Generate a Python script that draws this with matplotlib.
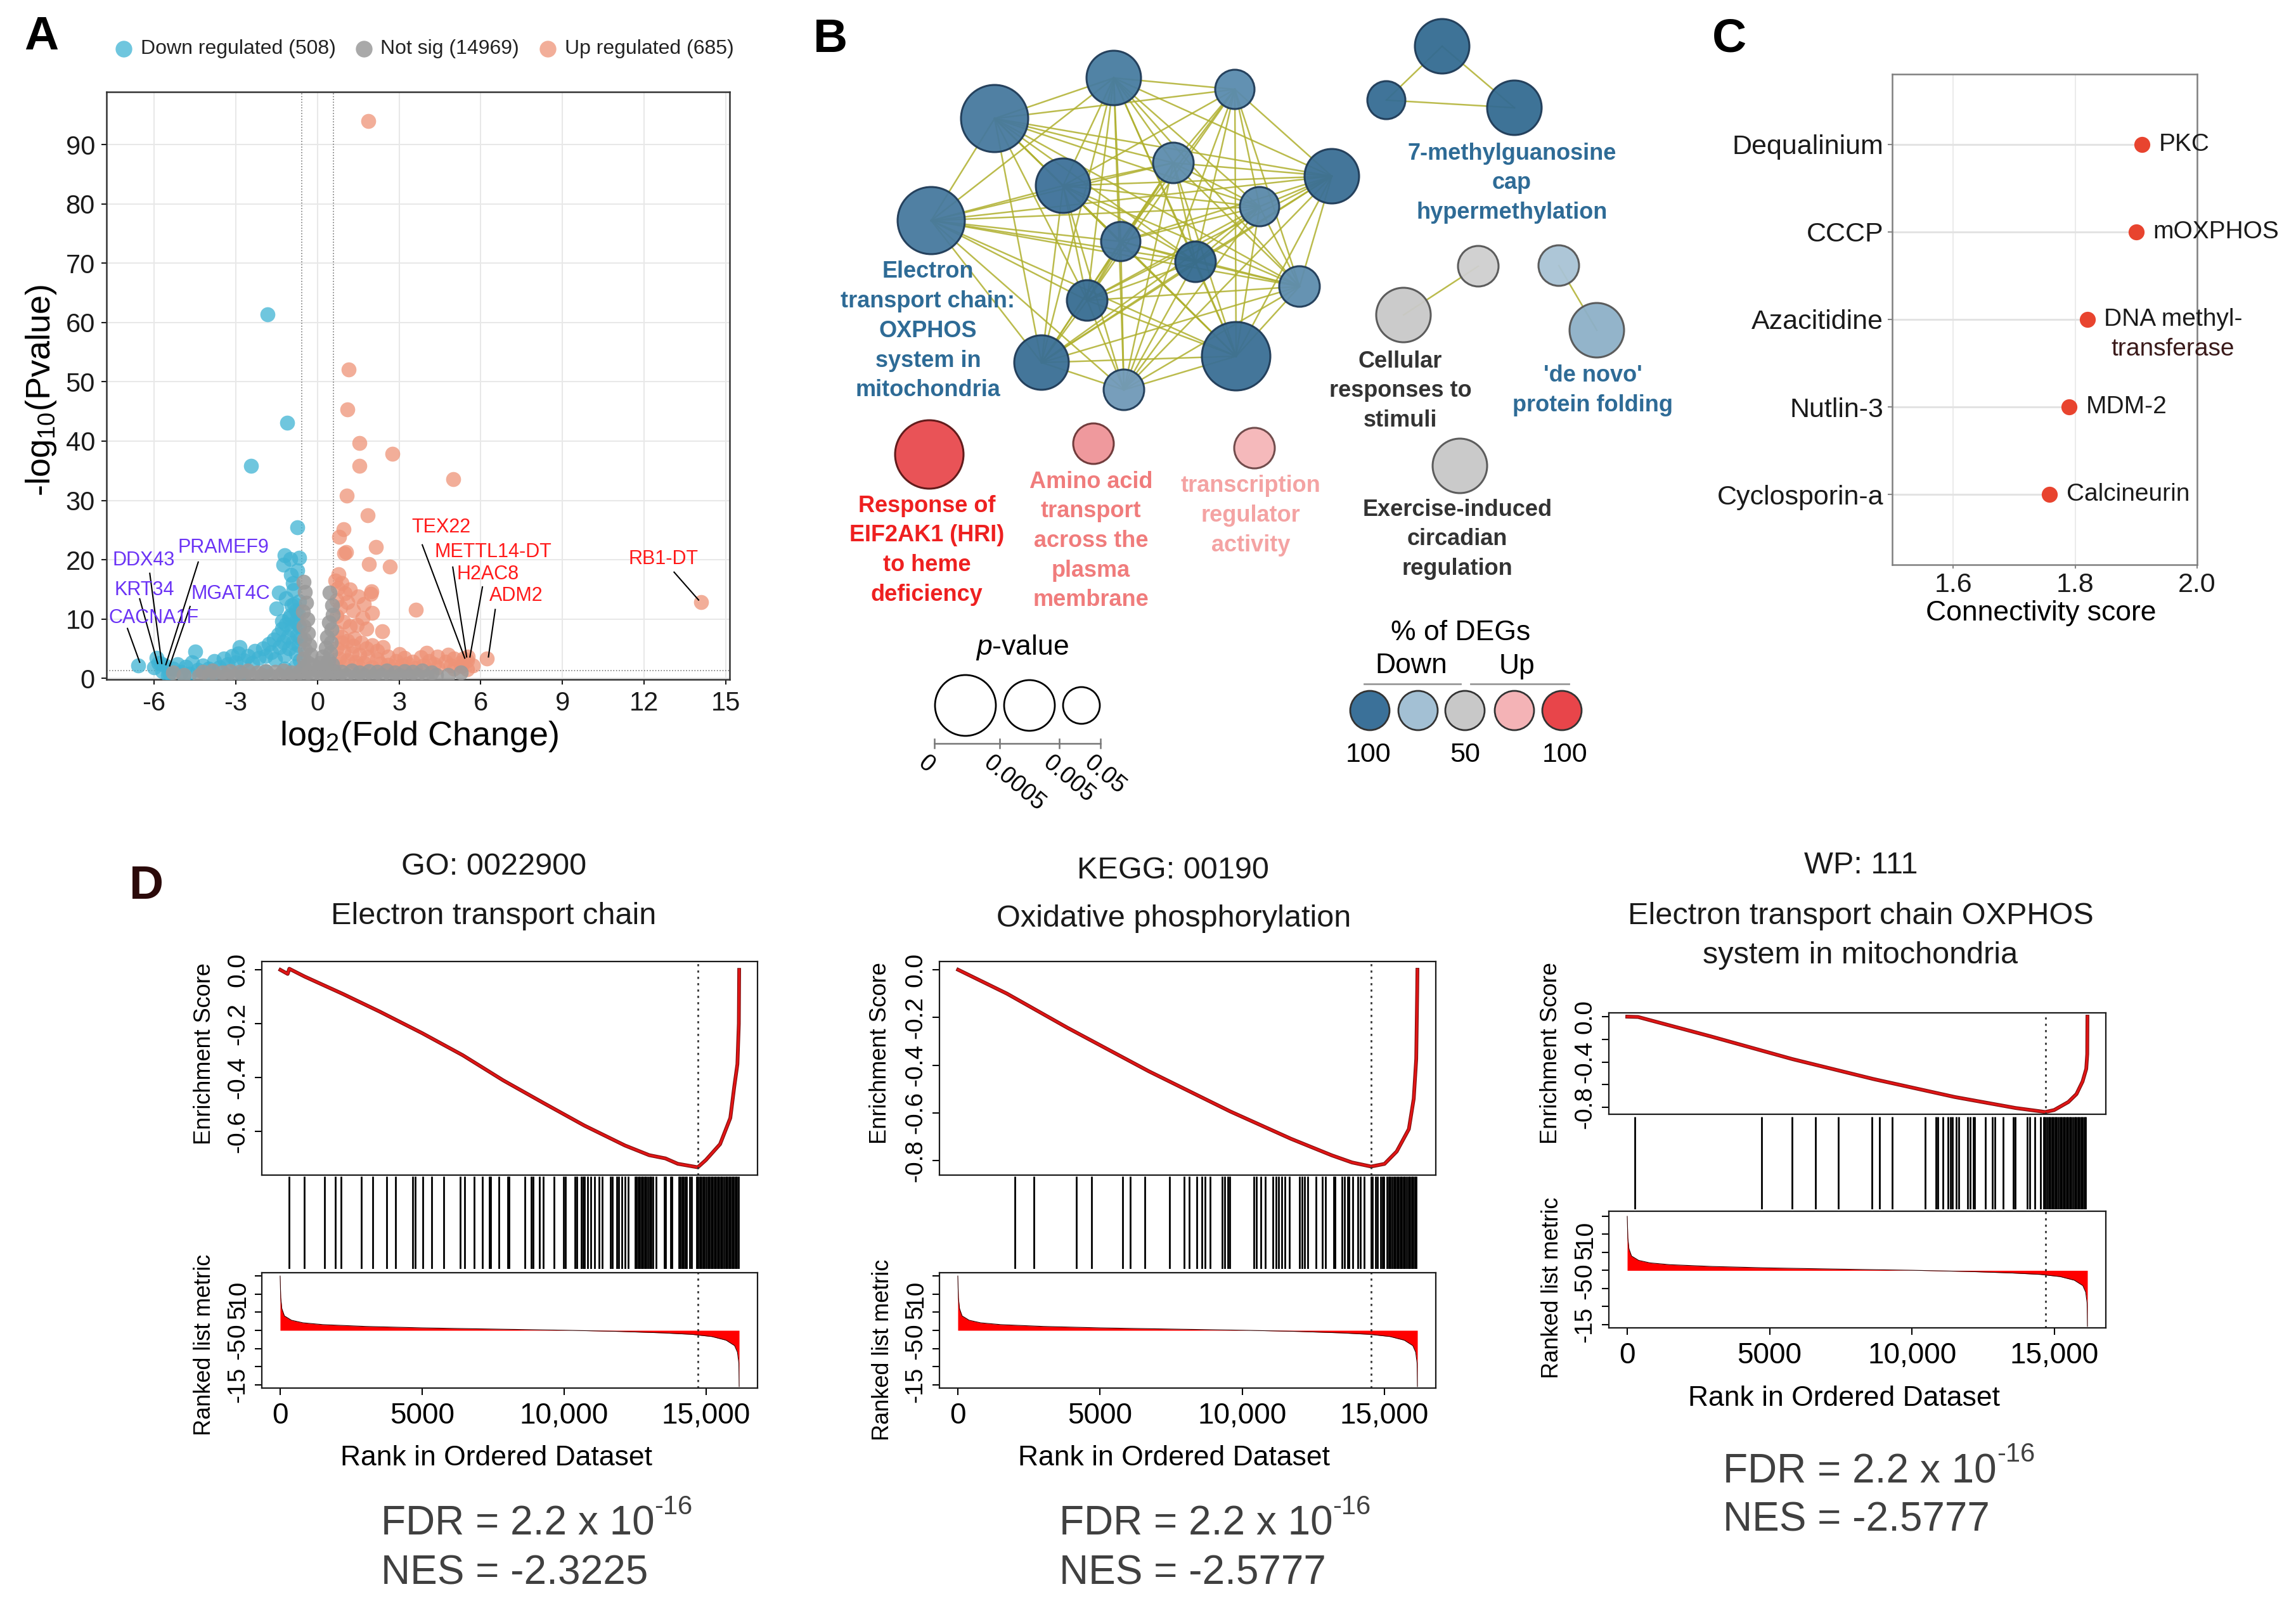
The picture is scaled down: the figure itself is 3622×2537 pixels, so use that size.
import numpy as np
import matplotlib.pyplot as plt
from matplotlib.patches import Circle

plt.rcParams['font.family'] = ['Liberation Sans', 'DejaVu Sans']
plt.rcParams['mathtext.fontset'] = 'custom'
plt.rcParams['mathtext.rm'] = 'Liberation Sans'
plt.rcParams['mathtext.it'] = 'Liberation Sans:italic'
plt.rcParams['mathtext.bf'] = 'Liberation Sans:bold'
plt.rcParams['axes.unicode_minus'] = False

W, H = 3622, 2537

# ---------------- data: A volcano ----------------
down_pts = [(-1.83, 61.4), (-1.12, 43.1), (-2.44, 35.8), (-0.73, 25.5), (-1.21, 20.8), (-1.26, 19.1),
            (-0.66, 20.3), (-0.98, 17.4), (-1.41, 14.4), (-0.87, 14.9), (-0.95, 12.3), (-0.78, 11.5),
            (-1.05, 10.2), (-1.3, 9.6), (-0.70, 9.0), (-4.5, 4.5), (-2.85, 5.2), (-6.59, 2.2),
            (-5.91, 3.4), (-5.75, 2.5), (-6.0, 1.8), (-5.85, 2.6), (-5.7, 1.2), (-5.6, 2.1), (-5.45, 0.9),
            (-5.3, 1.6), (-5.15, 2.4), (-5.0, 1.1), (-4.85, 1.9), (-4.7, 0.8), (-4.6, 2.7), (-4.4, 1.4),
            (-4.2, 2.2), (-4.0, 1.6), (-3.8, 2.9), (-3.6, 1.8), (-3.45, 3.3), (-3.3, 2.4), (-3.15, 3.8),
            (-3.0, 2.7), (-2.9, 4.2), (-2.7, 3.0), (-2.55, 3.8), (-2.4, 2.6), (-2.3, 4.6), (-2.15, 3.4),
            (-2.0, 5.0), (-1.9, 3.8), (-1.8, 5.8), (-1.7, 4.4), (-1.6, 6.5), (-1.55, 3.2), (-1.45, 7.4),
            (-1.4, 5.2), (-1.3, 8.3), (-1.25, 6.1), (-1.2, 3.9), (-1.15, 9.1), (-1.1, 7.0), (-1.05, 5.0),
            (-1.0, 10.6), (-0.95, 8.2), (-0.9, 6.0), (-0.85, 12.5), (-0.8, 9.5), (-0.78, 4.2), (-0.75, 7.3),
            (-0.72, 11.0), (-0.7, 5.6), (-0.68, 13.0), (-0.66, 8.8), (-0.64, 3.0), (-0.62, 6.8),
            (-5.5, 0.5), (-4.9, 0.4), (-3.9, 0.6), (-2.8, 0.9), (-1.9, 1.2), (-1.2, 1.6), (-0.8, 2.0),
            (-1.5, 11.8), (-1.15, 13.5), (-0.9, 16.0), (-0.75, 18.2), (-1.0, 20.1)]
up_pts = [(1.87, 94.0), (1.14, 52.1), (1.10, 45.3), (1.55, 39.7), (2.76, 37.9), (1.53, 35.8), (4.99, 33.6),
          (1.07, 30.8), (1.85, 27.5), (0.96, 25.1), (0.80, 23.9), (2.14, 22.1), (1.05, 21.3), (0.98, 21.1),
          (1.90, 19.3), (2.67, 18.8), (0.78, 17.5), (3.62, 11.6), (2.37, 7.9), (1.98, 14.7), (14.1, 12.8),
          (6.22, 3.3), (5.52, 3.7), (5.35, 3.3),
          (0.65, 16.5), (0.75, 15.2), (0.9, 16.0), (1.0, 14.3), (1.2, 15.0), (0.7, 13.2), (0.85, 12.0),
          (1.1, 12.8), (1.3, 11.5), (1.5, 13.8), (1.7, 12.5), (1.95, 14.2), (2.0, 11.0), (1.65, 10.2),
          (0.7, 10.5), (0.95, 9.5), (1.2, 8.8), (1.45, 9.0), (1.8, 8.3), (0.7, 7.8), (0.9, 7.0), (1.1, 6.3),
          (1.35, 6.8), (1.6, 6.0), (2.0, 5.6), (2.4, 5.2), (0.7, 5.0), (0.95, 4.5), (1.25, 4.2), (1.55, 4.0),
          (1.85, 3.6), (2.2, 3.2), (2.6, 3.6), (2.9, 2.9), (3.2, 3.4), (3.5, 2.8), (3.8, 3.5), (4.1, 2.9),
          (4.4, 3.6), (4.7, 2.8), (5.0, 3.3), (5.25, 2.6), (5.5, 3.0), (5.7, 2.2), (3.0, 4.1), (4.0, 4.3),
          (4.8, 4.0), (0.65, 2.5), (1.0, 2.2), (1.5, 2.0), (2.0, 1.8), (2.8, 1.9), (3.6, 1.7), (4.4, 1.8),
          (5.0, 1.6), (5.5, 1.5), (0.8, 3.3), (1.1, 3.0), (1.4, 2.7), (1.7, 2.6), (2.3, 2.5), (2.6, 2.3),
          (3.1, 2.2), (3.9, 2.1), (4.3, 2.4), (4.9, 2.2), (5.3, 2.0), (2.2, 4.6), (1.8, 5.0), (1.3, 5.5),
          (0.9, 6.0), (3.3, 2.5)]
gray_pts = [(-4.35, 0.4), (-4.0, 0.6), (-3.7, 0.3), (-3.35, 0.5), (-3.05, 0.4), (-2.7, 0.6), (-2.4, 0.3),
            (-2.05, 0.5), (-1.75, 0.4), (-1.4, 0.6), (-1.1, 0.3), (-0.8, 0.5), (-0.5, 0.4), (-0.2, 0.6),
            (0.15, 0.3), (0.45, 0.5), (0.75, 0.4), (1.05, 0.6), (1.4, 0.3), (1.7, 0.5), (2.05, 0.4),
            (2.35, 0.6), (2.7, 0.3), (3.0, 0.5), (3.35, 0.4), (3.65, 0.6), (4.0, 0.3), (4.35, 0.5),
            (-4.2, 1.1), (-3.85, 1.3), (-3.5, 1.0), (-3.2, 1.2), (-2.85, 1.1), (-2.55, 1.3), (-2.2, 1.0),
            (-1.9, 1.2), (-1.55, 1.1), (-1.25, 1.3), (-0.95, 1.0), (-0.65, 1.2), (-0.35, 1.1), (0.0, 1.3),
            (0.3, 1.0), (0.6, 1.2), (0.9, 1.1), (1.25, 1.3), (1.55, 1.0), (1.9, 1.2), (2.2, 1.1),
            (2.55, 1.3), (2.85, 1.0), (3.2, 1.2), (3.5, 1.1), (3.85, 1.3), (4.2, 1.0),
            (-0.5, 16.3), (-0.45, 14.5), (-0.42, 12.7), (-0.52, 11.2), (-0.38, 10.0), (-0.5, 8.8),
            (-0.35, 7.6), (-0.48, 6.5), (-0.3, 5.6), (-0.45, 4.8), (-0.25, 4.0), (-0.5, 3.3), (-0.35, 2.6),
            (-0.15, 2.2), (-0.5, 1.8), (0.45, 14.4), (0.55, 12.3), (0.57, 10.7), (0.42, 9.4), (0.52, 8.2),
            (0.35, 7.0), (0.5, 6.0), (0.3, 5.1), (0.48, 4.3), (0.2, 3.6), (0.4, 3.0), (0.55, 2.4),
            (0.1, 2.6), (0.3, 1.9), (0.05, 1.7), (-5.3, 1.0), (5.26, 1.0), (-4.9, 0.5), (4.8, 0.6)]
legend_labels = ['Down regulated (508)', 'Not sig (14969)', 'Up regulated (685)']

down_names = ['DDX43', 'KRT34', 'CACNA1F', 'PRAMEF9', 'MGAT4C']
down_name_xy = [(-7.52, 19.9), (-7.45, 14.9), (-7.68, 10.2), (-5.13, 22.0), (-4.65, 14.2)]
down_seg = [((-6.16, 17.7), (-5.72, 2.5)), ((-6.53, 13.4), (-5.87, 2.5)), ((-6.98, 8.4), (-6.53, 2.7)),
            ((-4.38, 19.6), (-5.57, 2.3)), ((-4.68, 12.1), (-5.43, 2.1))]
up_names = ['TEX22', 'METTL14-DT', 'H2AC8', 'ADM2', 'RB1-DT']
up_name_xy = [(3.46, 25.5), (4.3, 21.3), (5.11, 17.5), (6.31, 13.9), (11.43, 20.1)]
up_seg = [((3.85, 22.5), (5.41, 3.4)), ((4.97, 18.75), (5.48, 3.6)), ((6.06, 15.4), (5.6, 3.6)),
          ((6.53, 11.6), (6.28, 3.6)), ((13.1, 17.9), (14.0, 13.2))]

# ---------------- data: B network (page pixels) ----------------
node_xy = [(1569, 187), (1757, 123), (1948, 141), (1469, 348), (1677, 293), (1851, 257), (2101, 278),
           (1987, 326), (1768, 381), (1886, 413), (1715, 474), (2050, 452), (1643, 572), (1950, 562),
           (1773, 615), (2275, 73), (2187, 158), (2389, 170), (2332, 420), (2214, 497), (2459, 419),
           (2519, 521), (1466, 717), (1725, 700), (1979, 707), (2303, 735)]
node_r = [53, 43, 31, 53, 43, 32, 43, 31, 31, 32, 32, 32, 43, 54, 32, 43, 30, 43, 32, 43, 32, 43, 54, 32, 32, 43]
node_col = ['#46799E', '#477CA0', '#5A8BAE', '#46799E', '#3D7199', '#5D8CAD', '#3A6F95', '#5A89AA',
            '#44769C', '#336A90', '#376C92', '#5E8DAE', '#3A6F95', '#3A6F95', '#7099B8', '#336B92',
            '#356D94', '#336B92', '#CFCFCF', '#C9C9C9', '#A9C3D5', '#8DB0C8', '#E84A4E', '#EF9498',
            '#F5B5B8', '#C8C8C8']
node_edge = ['#1F3B57'] * 18 + ['#555555'] * 4 + ['#5A1515', '#6A3535', '#6A4545', '#555555']
cluster_links = {0: [1, 2, 3, 4, 5, 6, 7, 8, 9, 10, 11, 12, 13], 1: [2, 3, 4, 5, 6, 7, 8, 9, 10, 11, 12, 13, 14],
                 2: [4, 5, 6, 7, 8, 9, 10, 11, 13, 14], 3: [4, 5, 6, 7, 8, 9, 10, 11, 12, 13, 14],
                 4: [5, 6, 7, 8, 9, 10, 11, 12, 13, 14], 5: [6, 7, 8, 9, 10, 11, 12, 13, 14],
                 6: [7, 8, 9, 10, 11, 12, 13, 14], 7: [8, 9, 10, 11, 12, 13, 14], 8: [9, 10, 11, 12, 13, 14],
                 9: [10, 11, 12, 13, 14], 10: [11, 12, 13, 14], 11: [12, 13, 14], 12: [13, 14], 13: [14],
                 15: [16, 17], 16: [17], 18: [19], 20: [21]}
term_text = [("Electron\ntransport chain:\nOXPHOS\nsystem in\nmitochondria", 1464, 429, '#2E6B96'),
             ("7-methylguanosine\ncap\nhypermethylation", 2385, 242, '#2E6B96'),
             ("Cellular\nresponses to\nstimuli", 2209, 570, '#333333'),
             ("'de novo'\nprotein folding", 2513, 593, '#2E6B96'),
             ("Response of\nEIF2AK1 (HRI)\nto heme\ndeficiency", 1462, 798, '#EE2020'),
             ("Amino acid\ntransport\nacross the\nplasma\nmembrane", 1721, 760, '#F07C7C'),
             ("transcription\nregulator\nactivity", 1973, 767, '#F4A3A3'),
             ("Exercise-induced\ncircadian\nregulation", 2299, 804, '#333333')]
pval_labels = ['0', '0.0005', '0.005', '0.05']
pval_r = [48, 40, 29]
deg_cols = ['#3B7199', '#A3C0D4', '#C8C8C8', '#F4B3B6', '#E8454A']

# ---------------- data: C connectivity ----------------
drugs = ['Dequalinium', 'CCCP', 'Azacitidine', 'Nutlin-3', 'Cyclosporin-a']
conn_score = [1.91, 1.90, 1.82, 1.79, 1.758]
targets = ['PKC', 'mOXPHOS', 'DNA methyl-', 'MDM-2', 'Calcineurin']

# ---------------- data: D GSEA ----------------
metric_rank = [0, 20, 60, 150, 400, 800, 1500, 3000, 5000, 8000, 10000, 12000, 13500, 14500, 15200, 15700,
               16000, 16100, 16150, 16162]
metric_val = [15, 9, 6, 4, 2.8, 2.1, 1.6, 1.1, 0.7, 0.3, 0.05, -0.3, -0.7, -1.1, -1.7, -2.7, -4.2, -6, -9, -15.5]

es1_rank = [8, 265, 322, 864, 2220, 3505, 5000, 6430, 7850, 9285, 10710, 12140, 12995, 13565, 14000, 14705,
            14990, 15490, 15850, 15990, 16100, 16150, 16162]
es1_val = [0.0, -0.015, 0.004, -0.025, -0.09, -0.155, -0.235, -0.317, -0.41, -0.495, -0.578, -0.652, -0.688,
           -0.70, -0.72, -0.733, -0.706, -0.647, -0.55, -0.433, -0.35, -0.2, 0.0]
es2_rank = [10, 1724, 3866, 6722, 9578, 11720, 13148, 13862, 14533, 15004, 15433, 15861, 16032, 16120, 16155, 16162]
es2_val = [0.0, -0.1, -0.244, -0.426, -0.594, -0.709, -0.778, -0.808, -0.825, -0.814, -0.762, -0.668, -0.541,
           -0.374, -0.08, 0.0]
es3_rank = [0, 380, 2948, 5799, 8650, 11500, 13639, 14680, 14993, 15492, 15777, 15990, 16120, 16155, 16162]
es3_val = [0.0, -0.003, -0.175, -0.374, -0.55, -0.708, -0.805, -0.84, -0.823, -0.752, -0.682, -0.572, -0.46,
           -0.33, 0.0]

hits1 = [315, 852, 1559, 1936, 2141, 2848, 3270, 3761, 4069, 4674, 4754, 5016, 5336, 5758, 6329, 6500, 6842,
         7127, 7356, 7413, 7698, 8006, 8063, 8611, 8839, 8896, 9124, 9272, 9637, 9980, 10037, 10379, 10436,
         10607, 10664, 10721, 10835, 10949, 11063, 11235, 11349, 11634, 11691, 11862, 11919, 12033, 12147,
         12261, 12490, 12547, 12604, 12661, 12718, 12775, 12832, 12889, 12946, 13003, 13060, 13117, 13231,
         13516, 13573, 13744, 13801, 14030, 14087, 14144, 14201, 14258, 14315, 14429, 14486, 14657, 14714,
         14771, 14828, 14885, 14942, 14999, 15056, 15113, 15170, 15227, 15284, 15341, 15398, 15455, 15512,
         15569, 15626, 15683, 15740, 15797, 15854, 15911, 15968, 16025, 16082, 16139]
hits2 = [2017, 2668, 4165, 4702, 5787, 6073, 6587, 7444, 7958, 8129, 8415, 8586, 8700, 8872, 9306, 9386, 9500,
         9557, 10414, 10505, 10665, 10814, 11076, 11191, 11271, 11385, 11499, 11648, 12013, 12104, 12184,
         12299, 12584, 12813, 12927, 13213, 13270, 13498, 13590, 13704, 13750, 13898, 14069, 14161, 14298,
         14526, 14584, 14698, 14755, 14869, 14926, 14983, 15098, 15155, 15212, 15269, 15326, 15384, 15441,
         15498, 15555, 15612, 15669, 15726, 15783, 15840, 15898, 15955, 16012, 16069, 16126]
hits3 = [256, 4726, 5787, 6608, 7417, 8603, 8866, 9299, 10462, 10838, 10918, 11089, 11260, 11351, 11431, 11545,
         11636, 11944, 12036, 12150, 12195, 12572, 12834, 12914, 13199, 13564, 13632, 14054, 14134, 14316,
         14510, 14624, 14681, 14738, 14795, 14852, 14909, 14966, 15023, 15080, 15137, 15194, 15251, 15308,
         15365, 15422, 15479, 15536, 15593, 15650, 15707, 15764, 15821, 15878, 15935, 15992, 16049, 16106]
peaks = [14700, 14531, 14684]
gsea_titles = [['GO: 0022900', 'Electron transport chain'], ['KEGG: 00190', 'Oxidative phosphorylation'],
               ['WP: 111', 'Electron transport chain OXPHOS', 'system in mitochondria']]
nes = ['-2.3225', '-2.5777', '-2.5777']

fig = plt.figure(figsize=(W / 100, H / 100), dpi=100)


def px_axes(x0, y0, x1, y1):
    return fig.add_axes([x0 / W, 1 - y1 / H, (x1 - x0) / W, (y1 - y0) / H])


cv = fig.add_axes([0, 0, 1, 1])
cv.set_xlim(0, W)
cv.set_ylim(H, 0)
cv.axis('off')

for lab, x, y, c in [('A', 65, 58, 'black'), ('B', 1310, 62, 'black'), ('C', 2728, 62, 'black'),
                     ('D', 231, 1399, '#2B0A0A')]:
    cv.text(x, y, lab, fontsize=54, fontweight='bold', ha='center', va='center', color=c)

# ---------------- A ----------------
c_down, c_gray, c_up = '#3FB3D4', '#9A9A9A', '#EE9377'
axA = px_axes(168, 145, 1151, 1072)
d = np.array(down_pts)
u = np.array(up_pts)
g = np.array(gray_pts)
axA.scatter(d[:, 0], d[:, 1], s=290, color=c_down, alpha=0.75, lw=0, zorder=3)
axA.scatter(u[:, 0], u[:, 1], s=290, color=c_up, alpha=0.75, lw=0, zorder=3)
axA.scatter(g[:, 0], g[:, 1], s=290, color=c_gray, alpha=0.85, lw=0, zorder=3)
for xv in (-0.585, 0.585):
    axA.axvline(xv, color='#777777', ls=':', lw=1.2, zorder=2)
axA.axhline(1.3, color='#777777', ls=':', lw=1.2, zorder=2)
for name, (tx, ty), (p0, p1) in zip(down_names, down_name_xy, down_seg):
    axA.text(tx, ty, name, color='#6A32F5', fontsize=22, va='center', ha='left', zorder=5)
    axA.plot([p0[0], p1[0]], [p0[1], p1[1]], color='black', lw=1.5, zorder=4)
for name, (tx, ty), (p0, p1) in zip(up_names, up_name_xy, up_seg):
    axA.text(tx, ty, name, color='#FF1A1A', fontsize=22, va='center', ha='left', zorder=5)
    axA.plot([p0[0], p1[0]], [p0[1], p1[1]], color='black', lw=1.5, zorder=4)
axA.set_xlim(-7.75, 15.14)
axA.set_ylim(-0.2, 98.9)
axA.set_xticks([-6, -3, 0, 3, 6, 9, 12, 15])
axA.set_yticks(range(0, 91, 10))
axA.grid(True, color='#E8E8E8', lw=1.5, zorder=0)
axA.set_axisbelow(True)
axA.tick_params(labelsize=30, length=6, width=1.5, pad=7, colors='#1a1a1a')
for sp in axA.spines.values():
    sp.set_color('#333333')
    sp.set_linewidth(1.8)
cv.text(661, 1162, 'log$_2$(Fold Change)', fontsize=39, ha='center', va='center')
cv.text(65, 616, '-log$_{10}$(Pvalue)', fontsize=39, ha='center', va='center', rotation=90)
for (dx, tx), lab, c, al in zip([(195, 222), (574, 600), (864, 891)], legend_labels,
                                [c_down, c_gray, c_up], [0.75, 0.85, 0.75]):
    cv.scatter([dx], [77], s=360, color=c, alpha=al, lw=0)
    cv.text(tx, 77, lab, fontsize=23, ha='left', va='center', color='#222222')

# ---------------- B ----------------
for a, nbrs in cluster_links.items():
    for b in nbrs:
        cv.plot([node_xy[a][0], node_xy[b][0]], [node_xy[a][1], node_xy[b][1]],
                color='#AFB02E', lw=1.8, alpha=0.85, zorder=1)
for (x, y), r, c, ec in zip(node_xy, node_r, node_col, node_edge):
    cv.add_patch(Circle((x, y), r, facecolor=c, edgecolor=ec, lw=2.2, alpha=0.95, zorder=2))
for txt, x, y, c in term_text:
    for i, line in enumerate(txt.split('\n')):
        cv.text(x, y + i * 46.7, line, fontsize=26, fontweight='bold', color=c, ha='center', va='center', zorder=3)

cv.text(1613, 1021, '$\\it{p}$-value', fontsize=32, ha='center', va='center')
for x, r in zip([1523, 1624, 1706], pval_r):
    cv.add_patch(Circle((x, 1113), r, facecolor='white', edgecolor='black', lw=2))
cv.plot([1474, 1736], [1173, 1173], color='#777777', lw=1.8)
for x, lab in zip([1474, 1577, 1671, 1736], pval_labels):
    cv.plot([x, x], [1166, 1180], color='#777777', lw=1.8)
    cv.text(x - 10, 1186, lab, fontsize=27, rotation=-40, rotation_mode='anchor', ha='left', va='top')

cv.text(2304, 999, '% of DEGs', fontsize=32, ha='center', va='center')
cv.text(2226, 1051, 'Down', fontsize=32, ha='center', va='center')
cv.text(2393, 1051, 'Up', fontsize=32, ha='center', va='center')
cv.plot([2152, 2304], [1079, 1079], color='#999999', lw=2)
cv.plot([2320, 2475], [1079, 1079], color='#999999', lw=2)
for x, c in zip([2161, 2237, 2311, 2389, 2464], deg_cols):
    cv.add_patch(Circle((x, 1121), 31, facecolor=c, edgecolor='#333333', lw=2))
for x, lab in zip([2159, 2311, 2469], ['100', '50', '100']):
    cv.text(x, 1191, lab, fontsize=31, ha='center', va='center')

# ---------------- C ----------------
axC = px_axes(2985, 117, 3466, 891)
ypos = np.arange(1, len(drugs) + 1)
axC.hlines(ypos, 1.5, conn_score, color='#E3E3E3', lw=2.2, zorder=1)
axC.scatter(conn_score, ypos, s=330, color='#E8442F', zorder=3, lw=0)
for x, y, t in zip(conn_score, ypos, targets):
    axC.annotate(t, (x, y), xytext=(19, 0), textcoords='offset points', fontsize=28, va='center',
                 ha='left', color='#1a1a1a', annotation_clip=False)
axC.annotate('transferase', (conn_score[2], ypos[2]), xytext=(27, -34), textcoords='offset points',
             fontsize=28, va='center', ha='left', color='#3A1A1A', annotation_clip=False)
axC.set_xlim(1.5, 2.0)
axC.set_ylim(5.8, 0.2)
axC.set_yticks(ypos)
axC.set_yticklabels(drugs)
axC.set_xticks([1.6, 1.8, 2.0])
axC.set_xticklabels(['1.6', '1.8', '2.0'])
axC.grid(True, axis='x', color='#EBEBEB', lw=1.5, zorder=0)
axC.set_axisbelow(True)
axC.tick_params(axis='y', labelsize=31, length=5, width=1.5, color='#888888', pad=5, labelcolor='#1a1a1a')
axC.tick_params(axis='x', labelsize=31, length=4, width=1.5, color='#888888', pad=5, labelcolor='#1a1a1a')
for sp in axC.spines.values():
    sp.set_color('#7F7F7F')
    sp.set_linewidth(1.8)
cv.text(3220, 967, 'Connectivity score', fontsize=32, ha='center', va='center')

# ---------------- D ----------------
boxes = [(413, 1195, 1517, 1854, 1856, 2002, 2008, 2190),
         (1482, 2265, 1517, 1854, 1856, 2002, 2008, 2190),
         (2538, 3322, 1598, 1758, 1762, 1908, 1911, 2095)]
es_lims = [(-0.762, 0.031), (-0.861, 0.0345), (-0.86, 0.0335)]
es_ticks = [[0, -0.2, -0.4, -0.6], [0, -0.2, -0.4, -0.6, -0.8], [0, -0.2, -0.4, -0.6, -0.8]]
es_ticklabels = [['0.0', '-0.2', '-0.4', '-0.6'], ['0.0', '-0.2', '-0.4', '-0.6', '-0.8'],
                 ['0.0', '', '-0.4', '', '-0.8']]
rk_lims = [(-15.9, 15.9), (-15.9, 15.9), (-15.9, 16.4)]
es_data = [(es1_rank, es1_val), (es2_rank, es2_val), (es3_rank, es3_val)]
hits_all = [hits1, hits2, hits3]
title_pos = [[(779, 1367), (779, 1446)], [(1850, 1373), (1852, 1450)],
             [(2936, 1365), (2935, 1446), (2935, 1507)]]
es_lab_pos = [(323, 1663), (1389, 1662), (2447, 1662)]
rk_lab_pos = [(323, 2122), (1392, 2130), (2449, 2032)]
xlab_pos = [(783, 2300), (1852, 2300), (2909, 2206)]
stat_pos = [(601, 2405, 2483), (1671, 2405, 2483), (2718, 2322, 2398)]
xl = (-646, 16808)

for k in range(3):
    x0, x1, et, eb, bt, bb, rt, rb = boxes[k]
    a1 = px_axes(x0, et, x1, eb)
    a2 = px_axes(x0, bt, x1, bb)
    a3 = px_axes(x0, rt, x1, rb)
    a1.plot(es_data[k][0], es_data[k][1], color='#7A0A0A', lw=4.2)
    a1.plot(es_data[k][0], es_data[k][1], color='#E01515', lw=2.6)
    a1.axvline(peaks[k], color='#333333', ls=(0, (1.2, 2.4)), lw=2)
    a1.set_xlim(xl)
    a1.set_ylim(es_lims[k])
    a1.set_xticks([])
    a1.set_yticks(es_ticks[k])
    a1.set_yticklabels(es_ticklabels[k], rotation=90, va='center', fontsize=28)
    a1.tick_params(axis='y', length=8, width=1.5, pad=6)
    a2.vlines(hits_all[k], 0, 1, color='black', lw=2.0)
    a2.set_xlim(xl)
    a2.set_ylim(0, 1)
    a2.axis('off')
    a3.fill_between(metric_rank, 0, metric_val, color='#FF0000', lw=0)
    a3.plot(metric_rank, metric_val, color='#300000', lw=0.8)
    a3.axvline(peaks[k], color='#333333', ls=(0, (1.2, 2.4)), lw=2)
    a3.set_xlim(xl)
    a3.set_ylim(rk_lims[k])
    a3.set_yticks([-15, -10, -5, 0, 5, 10, 15])
    a3.set_yticklabels(['-15', '', '-5', '0', '5', '10', ''], rotation=90, va='center', fontsize=28)
    a3.set_xticks([0, 5000, 10000, 15000])
    a3.set_xticklabels(['0', '5000', '10,000', '15,000'], fontsize=33)
    a3.tick_params(axis='y', length=8, width=1.5, pad=6)
    a3.tick_params(axis='x', length=8, width=1.5, pad=8)
    for ax in (a1, a3):
        for sp in ax.spines.values():
            sp.set_linewidth(1.6)
            sp.set_color('#1a1a1a')
    for t, (x, y) in zip(gsea_titles[k], title_pos[k]):
        cv.text(x, y, t, fontsize=35, ha='center', va='center', color='#1a1a1a')
    cv.text(*es_lab_pos[k], 'Enrichment Score', fontsize=26, rotation=90, ha='center', va='center')
    cv.text(*rk_lab_pos[k], 'Ranked list metric', fontsize=26, rotation=90, ha='center', va='center')
    cv.text(*xlab_pos[k], 'Rank in Ordered Dataset', fontsize=32, ha='center', va='center')
    sx, fy, ny = stat_pos[k]
    ft = cv.text(sx, fy, 'FDR = 2.2 x 10', fontsize=46, ha='left', va='center', color='#404040')
    cv.annotate('-16', xy=(1.0, 0.95), xycoords=ft, fontsize=30, ha='left', va='center', color='#404040')
    cv.text(sx, ny, 'NES = ' + nes[k], fontsize=46, ha='left', va='center', color='#404040')

fig.savefig('out.png', dpi=100)
